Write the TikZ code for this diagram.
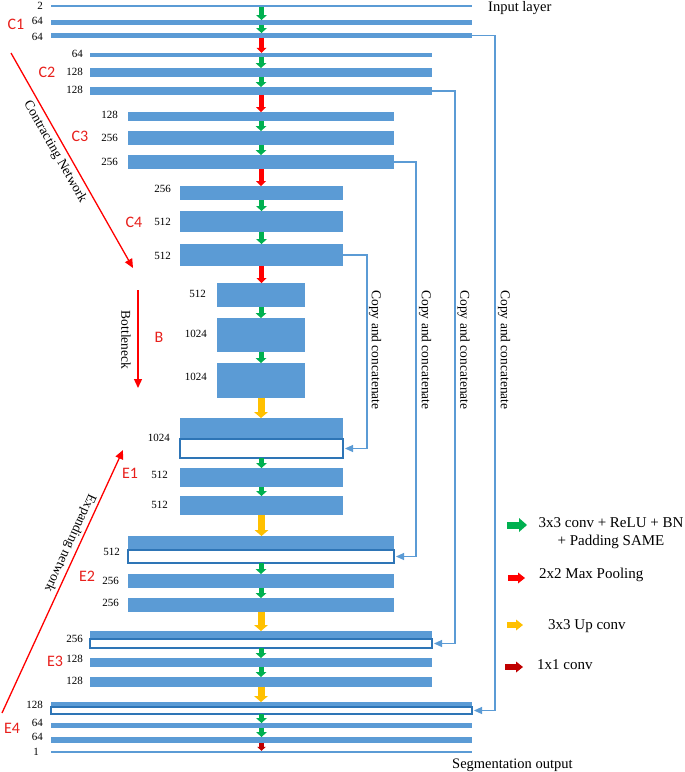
\documentclass[tikz,border=0pt]{standalone}
\usepackage{fontspec}
\setmainfont{Liberation Serif}
\newfontfamily\labfont{Carlito}
\usetikzlibrary{arrows.meta}
\definecolor{barblue}{HTML}{5B9BD5}
\definecolor{edgeblue}{HTML}{2E75B6}
\definecolor{skipblue}{HTML}{5B9BD5}
\definecolor{convgreen}{HTML}{00B050}
\definecolor{poolred}{HTML}{FF0000}
\definecolor{upyellow}{HTML}{FFC000}
\definecolor{onered}{HTML}{C00000}
\definecolor{labred}{HTML}{E8201C}
\begin{document}
\begin{tikzpicture}[x=1pt,y=-1pt,
  barf/.style={fill=barblue, draw=none, inner sep=0pt, outer sep=0pt},
  barw/.style={fill=white, draw=edgeblue, line width=1.2pt, inner sep=0pt, outer sep=0pt},
  lv1/.style={minimum width=421pt},
  lv2/.style={minimum width=342pt},
  lv3/.style={minimum width=266pt},
  lv4/.style={minimum width=163pt},
  lvb/.style={minimum width=88pt},
  num/.style={font=\fontsize{11}{13}\selectfont, inner sep=0pt, anchor=east},
  stage/.style={font=\labfont\fontsize{16}{18}\selectfont, text=labred, inner sep=0pt},
  rottxt/.style={font=\fontsize{13.5}{16}\selectfont, inner sep=0pt},
  legtxt/.style={font=\fontsize{15}{18}\selectfont, inner sep=0pt},
  plain/.style={font=\fontsize{14.5}{17}\selectfont, inner sep=0pt},
  conv/.style={draw=convgreen, line width=5pt, -{Triangle[width=11pt,length=5pt,line width=0pt]}},
  pool/.style={draw=poolred, line width=5pt, -{Triangle[width=10pt,length=5pt,line width=0pt]}},
  upc/.style={draw=upyellow, line width=7pt, -{Triangle[width=14pt,length=6pt,line width=0pt]}},
  one/.style={draw=onered, line width=5pt, -{Triangle[width=9pt,length=4pt,line width=0pt]}},
  lgconv/.style={draw=convgreen, line width=7pt, -{Triangle[width=14pt,length=8pt,line width=0pt]}},
  lgpool/.style={draw=poolred, line width=6pt, -{Triangle[width=11pt,length=7pt,line width=0pt]}},
  lgup/.style={draw=upyellow, line width=6pt, -{Triangle[width=11pt,length=7pt,line width=0pt]}},
  lgone/.style={draw=onered, line width=6pt, -{Triangle[width=11pt,length=7pt,line width=0pt]}},
  skip/.style={draw=skipblue, line width=1.1pt, shorten >=2pt, -{Triangle[width=7pt,length=8pt]}},
  bigred/.style={draw=poolred, line width=1.3pt, -{Triangle[width=8pt,length=9pt]}}
]
\fill[white] (0,0) rectangle (685,772);
\useasboundingbox (0,0) rectangle (685,772);

% contracting path
\node[barf,lv1,minimum height=2.5pt] (L1a) at (261.5,6) {};
\node[barf,lv1,minimum height=5pt] (L1b) at (261.5,22.5) {};
\node[barf,lv1,minimum height=5pt] (L1c) at (261.5,35.5) {};
\node[barf,lv2,minimum height=4.5pt] (L2a) at (261,55) {};
\node[barf,lv2,minimum height=9pt] (L2b) at (261,72.5) {};
\node[barf,lv2,minimum height=8pt] (L2c) at (261,91) {};
\node[barf,lv3,minimum height=9pt] (L3a) at (261,116.5) {};
\node[barf,lv3,minimum height=14pt] (L3b) at (261,138) {};
\node[barf,lv3,minimum height=14pt] (L3c) at (261,162) {};
\node[barf,lv4,minimum height=14pt] (L4a) at (261.5,193) {};
\node[barf,lv4,minimum height=21pt] (L4b) at (261.5,221.5) {};
\node[barf,lv4,minimum height=22pt] (L4c) at (261.5,255) {};
\node[barf,lvb,minimum height=24pt] (Ba) at (261,295) {};
\node[barf,lvb,minimum height=34pt] (Bb) at (261,335) {};
\node[barf,lvb,minimum height=35pt] (Bc) at (261,380.5) {};
% expanding path
\node[barf,lv4,minimum height=21pt] (E1f) at (261.5,428.5) {};
\node[barw,lv4,minimum height=19pt] (E1w) at (261.5,448.5) {};
\node[barf,lv4,minimum height=19pt] (E1b) at (261.5,477.5) {};
\node[barf,lv4,minimum height=19pt] (E1c) at (261.5,505.5) {};
\node[barf,lv3,minimum height=14pt] (E2f) at (261,543) {};
\node[barw,lv3,minimum height=13pt] (E2w) at (261,556.5) {};
\node[barf,lv3,minimum height=14pt] (E2b) at (261,581) {};
\node[barf,lv3,minimum height=14pt] (E2c) at (261,605) {};
\node[barf,lv2,minimum height=8pt] (E3f) at (261,635) {};
\node[barw,lv2,minimum height=9pt] (E3w) at (261,643.5) {};
\node[barf,lv2,minimum height=9pt] (E3b) at (261,662.5) {};
\node[barf,lv2,minimum height=10pt] (E3c) at (261,682) {};
\node[barf,lv1,minimum height=5pt] (E4f) at (261.5,704.5) {};
\node[barw,lv1,minimum height=7pt] (E4w) at (261.5,710.5) {};
\node[barf,lv1,minimum height=5pt] (E4b) at (261.5,725.5) {};
\node[barf,lv1,minimum height=6pt] (E4c) at (261.5,740) {};
\node[barf,lv1,minimum height=2.5pt] (E4d) at (261.5,752) {};

% channel numbers
\node[num] (n1) at (43,6) {2};
\node[num] (n2) at (43,21) {64};
\node[num] (n3) at (43,37) {64};
\node[num] (n4) at (83,54) {64};
\node[num] (n5) at (83,72) {128};
\node[num] (n6) at (83,90) {128};
\node[num] (n7) at (118,115) {128};
\node[num] (n8) at (118,138) {256};
\node[num] (n9) at (118,162) {256};
\node[num] (n10) at (171,189) {256};
\node[num] (n11) at (171,222) {512};
\node[num] (n12) at (171,256) {512};
\node[num] (n13) at (206,294) {512};
\node[num] (n14) at (207,334) {1024};
\node[num] (n15) at (207,377) {1024};
\node[num] (n16) at (170,438) {1024};
\node[num] (n17) at (168,475) {512};
\node[num] (n18) at (168,505) {512};
\node[num] (n19) at (120,552) {512};
\node[num] (n20) at (119,581) {256};
\node[num] (n21) at (119,603) {256};
\node[num] (n22) at (83,639) {256};
\node[num] (n23) at (83,659) {128};
\node[num] (n24) at (83,681) {128};
\node[num] (n25) at (43,705) {128};
\node[num] (n26) at (43,723) {64};
\node[num] (n27) at (43,737) {64};
\node[num] (n28) at (39,752) {1};

% stage labels
\node[stage] (sC1) at (16,24) {C1};
\node[stage] (sC2) at (47,72) {C2};
\node[stage] (sC3) at (80,136) {C3};
\node[stage] (sC4) at (134,222) {C4};
\node[stage] (sB) at (159,337) {B};
\node[stage] (sE1) at (130,473) {E1};
\node[stage] (sE2) at (87,576) {E2};
\node[stage] (sE3) at (55,661) {E3};
\node[stage] (sE4) at (12,728) {E4};

% vertical operation arrows
\draw[conv] (L1a.south) -- (L1a.south |- L1b.north);
\draw[conv] (L1b.south) -- (L1b.south |- L1c.north);
\draw[pool] (L1c.south) -- (L1c.south |- L2a.north);
\draw[conv] (L2a.south) -- (L2a.south |- L2b.north);
\draw[conv] (L2b.south) -- (L2b.south |- L2c.north);
\draw[pool] (L2c.south) -- (L2c.south |- L3a.north);
\draw[conv] (L3a.south) -- (L3a.south |- L3b.north);
\draw[conv] (L3b.south) -- (L3b.south |- L3c.north);
\draw[pool] (L3c.south) -- (L3c.south |- L4a.north);
\draw[conv] (L4a.south) -- (L4a.south |- L4b.north);
\draw[conv] (L4b.south) -- (L4b.south |- L4c.north);
\draw[pool] (L4c.south) -- (L4c.south |- Ba.north);
\draw[conv] (Ba.south) -- (Ba.south |- Bb.north);
\draw[conv] (Bb.south) -- (Bb.south |- Bc.north);
\draw[upc] (Bc.south) -- (Bc.south |- E1f.north);
\draw[conv] (E1w.south) -- (E1w.south |- E1b.north);
\draw[conv] (E1b.south) -- (E1b.south |- E1c.north);
\draw[upc] (E1c.south) -- (E1c.south |- E2f.north);
\draw[conv] (E2w.south) -- (E2w.south |- E2b.north);
\draw[conv] (E2b.south) -- (E2b.south |- E2c.north);
\draw[upc] (E2c.south) -- (E2c.south |- E3f.north);
\draw[conv] (E3w.south) -- (E3w.south |- E3b.north);
\draw[conv] (E3b.south) -- (E3b.south |- E3c.north);
\draw[upc] (E3c.south) -- (E3c.south |- E4f.north);
\draw[conv] (E4w.south) -- (E4w.south |- E4b.north);
\draw[conv] (E4b.south) -- (E4b.south |- E4c.north);
\draw[one] (E4c.south) -- (E4c.south |- E4d.north);

% skip connections
\draw[skip] (L1c.east) -- ++(23,0) |- (E4w.east);
\draw[skip] (L2c.east) -- ++(23,0) |- (E3w.east);
\draw[skip] (L3c.east) -- ++(22,0) |- (E2w.east);
\draw[skip] (L4c.east) -- ++(24,0) |- (E1w.east);
\node[rottxt, rotate=-90] (cc4) at (375,350) {Copy and concatenate};
\node[rottxt, rotate=-90] (cc3) at (425,350) {Copy and concatenate};
\node[rottxt, rotate=-90] (cc2) at (463.5,350) {Copy and concatenate};
\node[rottxt, rotate=-90] (cc1) at (504,350) {Copy and concatenate};

% network direction arrows
\coordinate (cnS) at (11,53);
\coordinate (cnE) at (133,268);
\draw[bigred] (cnS) -- (cnE);
\node[rottxt, rotate=-60.4] (cnT) at (55,152) {Contracting Network};
\coordinate (bnS) at (138,290);
\coordinate (bnE) at (138,388);
\draw[bigred] (bnS) -- (bnE);
\node[rottxt, rotate=-90] (bnT) at (126,340) {Bottleneck};
\coordinate (enS) at (2,713);
\coordinate (enE) at (123,450);
\draw[bigred] (enS) -- (enE);
\node[rottxt, rotate=245.3] (enT) at (70,543) {Expanding network};

% input / output
\node[plain, anchor=base west] (inp) at (488,11.5) {Input layer};
\node[plain, anchor=base west] (outp) at (452,768) {Segmentation output};

% legend
\coordinate (lg1s) at (507,525); \coordinate (lg1e) at (527,525);
\coordinate (lg2s) at (508,578); \coordinate (lg2e) at (525,578);
\coordinate (lg3s) at (507,625); \coordinate (lg3e) at (523,625);
\coordinate (lg4s) at (505,667); \coordinate (lg4e) at (523,667);
\draw[lgconv] (lg1s) -- (lg1e);
\draw[lgpool] (lg2s) -- (lg2e);
\draw[lgup] (lg3s) -- (lg3e);
\draw[lgone] (lg4s) -- (lg4e);
\node[legtxt, align=center] (lt1) at (611,533) {3x3 conv + ReLU + BN\\+ Padding SAME};
\node[legtxt, anchor=base west] (lt2) at (539,578) {2x2 Max Pooling};
\node[legtxt, anchor=base west] (lt3) at (548,629) {3x3 Up conv};
\node[legtxt, anchor=base west] (lt4) at (537,669) {1x1 conv};
\end{tikzpicture}
\end{document}
